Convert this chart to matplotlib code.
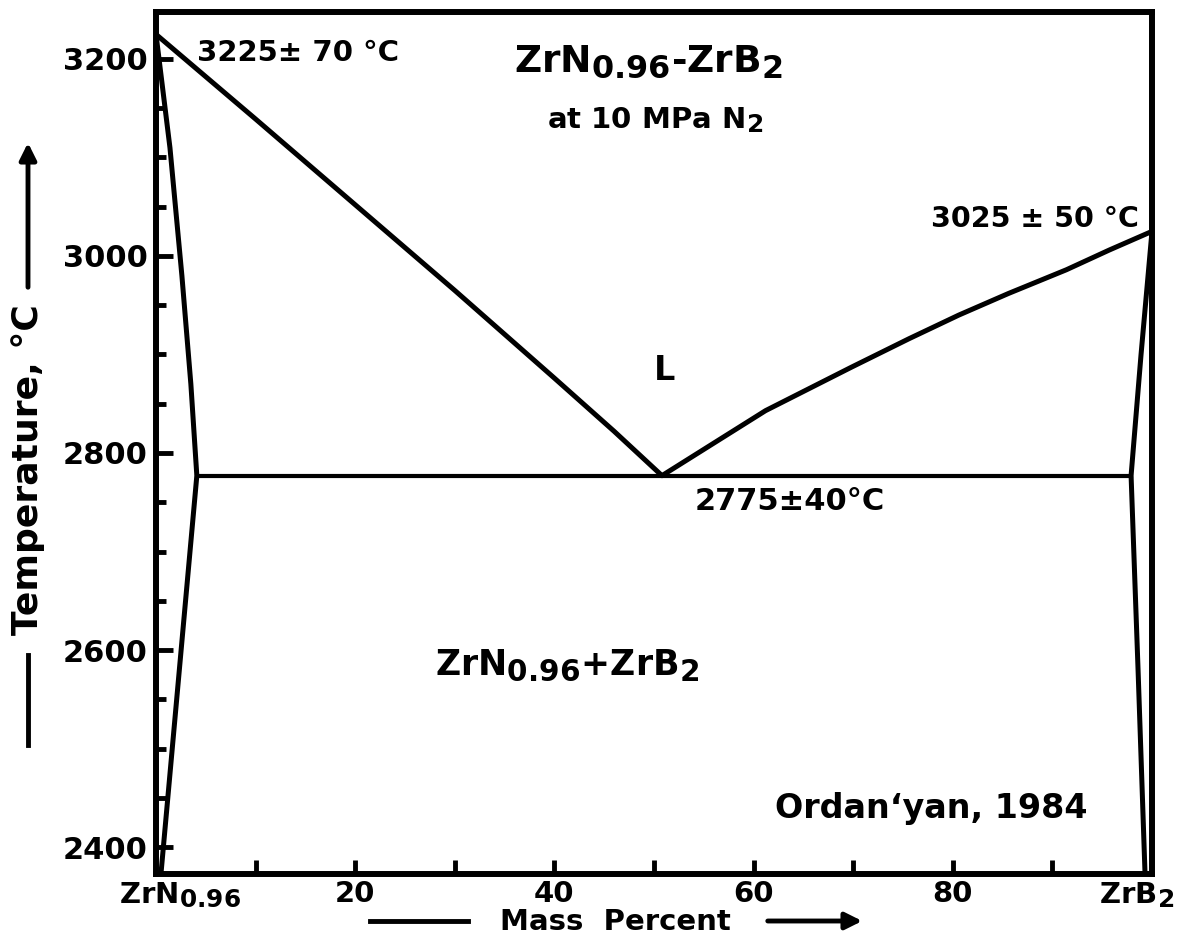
import matplotlib.pyplot as plt
import matplotlib._mathtext as mathtext_impl
from matplotlib.ticker import FixedLocator, MultipleLocator
from matplotlib.lines import Line2D

plt.rcParams['font.family'] = ['DejaVu Sans']
plt.rcParams['font.weight'] = 'bold'
plt.rcParams['mathtext.default'] = 'regular'
# the original lettering has almost full-size subscripts
mathtext_impl.SHRINK_FACTOR = 0.85

# mass percent ZrB2 / temperature in degC
eut_x = 50.8
eut_t = 2777

liq_left_x = [0, 10, 20, 30, 40, 46, eut_x]
liq_left_t = [3225, 3139, 3052, 2965, 2876, 2822, eut_t]

liq_right_x = [eut_x, 61.2, 69.8, 75.6, 80.6, 85.6, 91.4, 95.7, 100]
liq_right_t = [eut_t, 2843, 2887, 2916, 2940, 2962, 2986, 3006, 3025]

sol_left_x = [0, 1.4, 2.6, 3.5, 4.1, 0.5]
sol_left_t = [3225, 3110, 2980, 2870, eut_t, 2373]

sol_right_x = [100, 98.9, 97.9, 98.6, 99.3]
sol_right_t = [3025, 2900, eut_t, 2580, 2373]

eutectic_x = [4.1, 97.9]
eutectic_t = [eut_t, eut_t]

y_ticks = [2400, 2600, 2800, 3000, 3200]
x_ticks = [20, 40, 60, 80]
x_minor = [10, 30, 50, 70, 90]
end_labels = [r'ZrN$_{0.96}$', r'ZrB$_2$']
end_x = [2.4, 98.5]

W, H = 1188, 938
fig = plt.figure(figsize=(W / 100, H / 100), dpi=100)
ax = fig.add_axes([156 / W, 1 - 874 / H, (1152 - 156) / W, (874 - 12) / H])

ax.plot(liq_left_x, liq_left_t, color='black', lw=3.6, solid_capstyle='round')
ax.plot(liq_right_x, liq_right_t, color='black', lw=3.6, solid_capstyle='round')
ax.plot(sol_left_x, sol_left_t, color='black', lw=3.6, solid_joinstyle='miter')
ax.plot(sol_right_x, sol_right_t, color='black', lw=3.6, solid_joinstyle='miter')
ax.plot(eutectic_x, eutectic_t, color='black', lw=3.0)

ax.set_xlim(0, 100)
ax.set_ylim(2372.6, 3247.7)

for s in ax.spines.values():
    s.set_linewidth(4.3)

ax.set_yticks(y_ticks)
ax.yaxis.set_minor_locator(MultipleLocator(50))
ax.set_xticks(x_ticks)
ax.xaxis.set_minor_locator(FixedLocator(x_minor))
ax.tick_params(axis='y', which='major', direction='in', length=12, width=3.5,
               labelsize=22, pad=6)
ax.tick_params(axis='y', which='minor', direction='in', length=7, width=3.5)
ax.tick_params(axis='x', which='both', direction='in', length=10, width=3.5,
               labelsize=21, pad=4)

# the two end members sit under the corners, a bit off the axis ends
for xv, s in zip(end_x, end_labels):
    ax.text(xv, -6 / 862, s, transform=ax.get_xaxis_transform(), fontsize=21,
            ha='center', va='top')

# labels inside the diagram
ax.text(4.1, 3198, '3225\u00b1 70 \u00b0C', fontsize=21, ha='left', va='baseline')
ax.text(49.4, 3187, r'ZrN$_{0.96}$-ZrB$_2$', fontsize=27, ha='center', va='baseline')
ax.text(50.1, 3130, r'at 10 MPa N$_2$', fontsize=21, ha='center', va='baseline')
ax.text(98.7, 3029, '3025 \u00b1 50 \u00b0C', fontsize=20.5, ha='right', va='baseline')
ax.text(51.1, 2874, 'L', fontsize=24, ha='center', va='baseline')
ax.text(54.1, 2742, '2775\u00b140\u00b0C', fontsize=22, ha='left', va='baseline')
ax.text(41.3, 2575, r'ZrN$_{0.96}$+ZrB$_2$', fontsize=25, ha='center', va='baseline')
ax.text(93.5, 2429, 'Ordan\u2018yan, 1984', fontsize=24, ha='right', va='baseline')

# axis titles with their arrows
fig.text(28 / W, 1 - 470 / H, 'Temperature, \u00b0C', fontsize=26, rotation=90,
         ha='center', va='center')
fig.add_artist(Line2D([28 / W, 28 / W], [1 - 745 / H, 1 - 655 / H], color='black', lw=3.5))
ax.annotate('', xy=(28 / W, 1 - 140 / H), xytext=(28 / W, 1 - 290 / H),
            xycoords='figure fraction', textcoords='figure fraction',
            arrowprops=dict(arrowstyle='-|>', color='black', lw=3.5, mutation_scale=25))

fig.text(615 / W, 1 - 930 / H, 'Mass  Percent', fontsize=21, ha='center', va='baseline')
fig.add_artist(Line2D([370 / W, 468 / W], [1 - 921 / H, 1 - 921 / H], color='black', lw=3.5))
ax.annotate('', xy=(865 / W, 1 - 921 / H), xytext=(765 / W, 1 - 921 / H),
            xycoords='figure fraction', textcoords='figure fraction',
            arrowprops=dict(arrowstyle='-|>', color='black', lw=3.5, mutation_scale=25))

fig.savefig('out.png', dpi=100)
